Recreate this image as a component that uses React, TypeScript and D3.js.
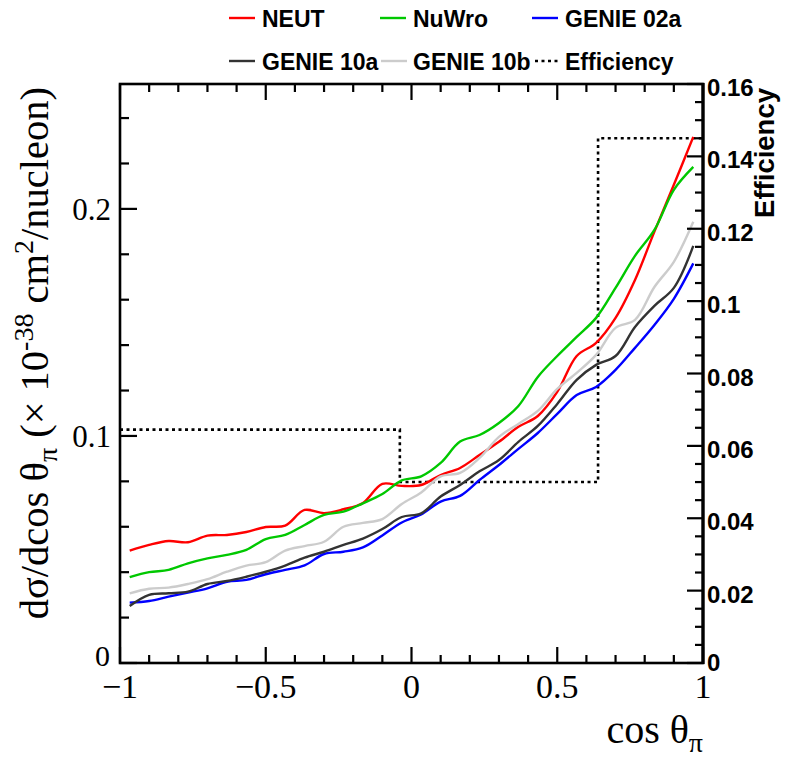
import React from "react";
import * as d3 from "d3";

// ---------------- data ----------------
const cosTheta = [
  -0.9667, -0.9, -0.8333, -0.7667, -0.7, -0.6333, -0.5667, -0.5, -0.4333, -0.3667,
  -0.3, -0.2333, -0.1667, -0.1, -0.0333, 0.0333, 0.1, 0.1667, 0.2333, 0.3,
  0.3667, 0.4333, 0.5, 0.5667, 0.6333, 0.7, 0.7667, 0.8333, 0.9, 0.9667,
];
const neut = [
  0.0495, 0.052, 0.0537, 0.0532, 0.0561, 0.0564, 0.0577, 0.0599, 0.0605, 0.0674,
  0.066, 0.0677, 0.0705, 0.0789, 0.078, 0.0784, 0.0828, 0.0859, 0.0916, 0.0974,
  0.104, 0.1088, 0.1194, 0.1352, 0.141, 0.152, 0.1687, 0.19, 0.2106, 0.2317,
];
const nuwro = [
  0.0378, 0.04, 0.041, 0.0439, 0.0461, 0.0476, 0.0498, 0.0546, 0.0564, 0.0608,
  0.0652, 0.0667, 0.0703, 0.0744, 0.0804, 0.0822, 0.0881, 0.0975, 0.1004, 0.1057,
  0.1132, 0.126, 0.1352, 0.1436, 0.152, 0.1652, 0.1793, 0.1907, 0.2084, 0.2185,
];
const genie02a = [
  0.0266, 0.0273, 0.0292, 0.031, 0.0329, 0.0358, 0.0366, 0.0391, 0.041, 0.043,
  0.048, 0.049, 0.0509, 0.0562, 0.0619, 0.0654, 0.0711, 0.0736, 0.0806, 0.0872,
  0.0943, 0.1013, 0.1097, 0.118, 0.1216, 0.1291, 0.1388, 0.1489, 0.1604, 0.176,
];
const genie10a = [
  0.0251, 0.03, 0.0307, 0.0314, 0.0348, 0.0361, 0.038, 0.0402, 0.0429, 0.0464,
  0.049, 0.052, 0.0548, 0.059, 0.0643, 0.0659, 0.0733, 0.0784, 0.0844, 0.0894,
  0.0974, 0.1044, 0.1141, 0.1247, 0.1313, 0.1352, 0.148, 0.1573, 0.1652, 0.1837,
];
const genie10b = [
  0.0307, 0.0327, 0.0332, 0.0348, 0.0369, 0.0402, 0.0429, 0.0444, 0.0495, 0.0515,
  0.0534, 0.06, 0.0617, 0.0634, 0.07, 0.0751, 0.0822, 0.0837, 0.0903, 0.0996,
  0.1053, 0.111, 0.1207, 0.1278, 0.1357, 0.1476, 0.1511, 0.1656, 0.1767, 0.1943,
];
const effEdges = [-1, -0.04, 0.64, 1];
const effValues = [0.0645, 0.05, 0.145];

const xTickLabels = ["\u22121", "\u22120.5", "0", "0.5", "1"];
const xTickValues = [-1, -0.5, 0, 0.5, 1];
const yTickValues = [0, 0.1, 0.2];
const yTickLabels = ["0", "0.1", "0.2"];
const effTickValues = [0, 0.02, 0.04, 0.06, 0.08, 0.1, 0.12, 0.14, 0.16];
const effTickLabels = ["0", "0.02", "0.04", "0.06", "0.08", "0.1", "0.12", "0.14", "0.16"];

const seriesNames = ["NEUT", "NuWro", "GENIE 02a", "GENIE 10a", "GENIE 10b"];
const seriesColors = ["#ff0000", "#00c800", "#0000ff", "#333333", "#cccccc"];
const seriesData = [neut, nuwro, genie02a, genie10a, genie10b];

// ---------------- layout ----------------
const W = 798;
const H = 771;
const L = 120, R = 703, T = 84, B = 663;

export default function App() {
  const x = d3.scaleLinear().domain([-1, 1]).range([L, R]);
  const y = d3.scaleLinear().domain([0, 0.255]).range([B, T]);
  const ye = d3.scaleLinear().domain([0, 0.16]).range([B, T]);

  const line = d3
    .line<number>()
    .x((_, i) => x(cosTheta[i]))
    .y((d) => y(d))
    .curve(d3.curveCatmullRom.alpha(0.5));

  // efficiency step path
  let effPath = "";
  effValues.forEach((v, i) => {
    const x0 = x(effEdges[i]);
    const x1 = x(effEdges[i + 1]);
    const yy = ye(v);
    effPath += (i === 0 ? `M${x0},${yy}` : `L${x0},${yy}`) + `L${x1},${yy}`;
  });

  const xMinor = d3.range(-10, 11).map((k) => k / 10);
  const yMinor = d3.range(0, 13).map((k) => k * 0.02);
  const effMinor = d3.range(0, 33).map((k) => k * 0.005);

  const serif = "'Liberation Serif', 'DejaVu Serif', serif";
  const sans = "'Liberation Sans', Arial, sans-serif";

  const legendItems = [
    { name: seriesNames[0], color: seriesColors[0], lx: 229, tx: 262, ly: 18, dash: "" },
    { name: seriesNames[1], color: seriesColors[1], lx: 380, tx: 413, ly: 18, dash: "" },
    { name: seriesNames[2], color: seriesColors[2], lx: 532, tx: 565, ly: 18, dash: "" },
    { name: seriesNames[3], color: seriesColors[3], lx: 229, tx: 262, ly: 61, dash: "" },
    { name: seriesNames[4], color: seriesColors[4], lx: 381, tx: 413, ly: 61, dash: "" },
    { name: "Efficiency", color: "#000", lx: 535, tx: 565, ly: 61, dash: "3,3.5" },
  ];

  return (
    <svg
      width={W}
      height={H}
      style={{ position: "absolute", left: 0, top: 0, background: "#fff" }}
    >
      <rect x={0} y={0} width={W} height={H} fill="#fff" />

      {/* efficiency */}
      <path d={effPath} fill="none" stroke="#000" strokeWidth={2.6} strokeDasharray="3,3.5" />

      {/* series */}
      {seriesData.map((s, k) => (
        <path
          key={k}
          d={line(s) || ""}
          fill="none"
          stroke={seriesColors[k]}
          strokeWidth={2.4}
        />
      ))}

      {/* frame */}
      <rect x={L} y={T} width={R - L} height={B - T} fill="none" stroke="#000" strokeWidth={2.6} />

      {/* bottom & top ticks */}
      {xMinor.map((v, i) => {
        const major = Math.abs(v * 2 - Math.round(v * 2)) < 1e-6;
        const len = major ? 16 : 8;
        return (
          <g key={`xt${i}`}>
            <line x1={x(v)} x2={x(v)} y1={B} y2={B - len} stroke="#000" strokeWidth={2.2} />
            <line x1={x(v)} x2={x(v)} y1={T} y2={T + len} stroke="#000" strokeWidth={2.2} />
          </g>
        );
      })}
      {/* left ticks */}
      {yMinor.map((v, i) => {
        const major = i % 5 === 0;
        const len = major ? 17 : 9;
        return (
          <line key={`yt${i}`} x1={L} x2={L + len} y1={y(v)} y2={y(v)} stroke="#000" strokeWidth={2.2} />
        );
      })}
      {/* right ticks */}
      {effMinor.map((v, i) => {
        const major = i % 4 === 0;
        const len = major ? 16 : 8;
        return (
          <line key={`et${i}`} x1={R} x2={R - len} y1={ye(v)} y2={ye(v)} stroke="#000" strokeWidth={2.2} />
        );
      })}
      <line x1={R} x2={R} y1={T - 1} y2={B + 1} stroke="#000" strokeWidth={3.2} />

      {/* x labels */}
      {xTickValues.map((v, i) => (
        <text
          key={`xl${i}`}
          x={x(v)}
          y={698}
          textAnchor="middle"
          fontFamily={serif}
          fontSize={34}
        >
          {xTickLabels[i]}
        </text>
      ))}
      {/* y labels */}
      {yTickValues.map((v, i) => (
        <text
          key={`yl${i}`}
          x={i === 0 ? 110 : 111}
          y={y(v) + (i === 0 ? 3 : 11)}
          textAnchor="end"
          fontFamily={serif}
          fontSize={i === 0 ? 30 : 31}
        >
          {yTickLabels[i]}
        </text>
      ))}
      {/* right labels */}
      {effTickValues.map((v, i) => (
        <text
          key={`el${i}`}
          x={707}
          y={ye(v) + (i === 0 ? 8 : 12)}
          textAnchor="start"
          fontFamily={sans}
          fontWeight="bold"
          fontSize={24}
        >
          {effTickLabels[i]}
        </text>
      ))}

      {/* axis titles */}
      <text x={703} y={743} textAnchor="end" fontFamily={serif} fontSize={40}>
        cos θ
        <tspan fontSize={28} dy={9}>π</tspan>
      </text>
      <text
        transform={`translate(48,87) rotate(-90)`}
        textAnchor="end"
        fontFamily={serif}
        fontSize={40.5}
      >
        dσ/dcos θ
        <tspan fontSize={28} dy={9}>π</tspan>
        <tspan dy={-9}> (× 10</tspan>
        <tspan fontSize={28} dy={-15}>-38</tspan>
        <tspan dy={15}> cm</tspan>
        <tspan fontSize={28} dy={-15}>2</tspan>
        <tspan dy={15}>/nucleon)</tspan>
      </text>
      <text
        transform={`translate(774,88) rotate(-90)`}
        textAnchor="end"
        fontFamily={sans}
        fontWeight="bold"
        fontSize={27.5}
      >
        Efficiency
      </text>

      {/* legend */}
      {legendItems.map((it, i) => (
        <g key={`lg${i}`}>
          <line
            x1={it.lx}
            x2={it.lx + 26}
            y1={it.ly}
            y2={it.ly}
            stroke={it.color}
            strokeWidth={2.4}
            strokeDasharray={it.dash || undefined}
          />
          <text
            x={it.tx}
            y={it.ly + 8.5}
            fontFamily={sans}
            fontWeight="bold"
            fontSize={23}
          >
            {it.name}
          </text>
        </g>
      ))}
    </svg>
  );
}
